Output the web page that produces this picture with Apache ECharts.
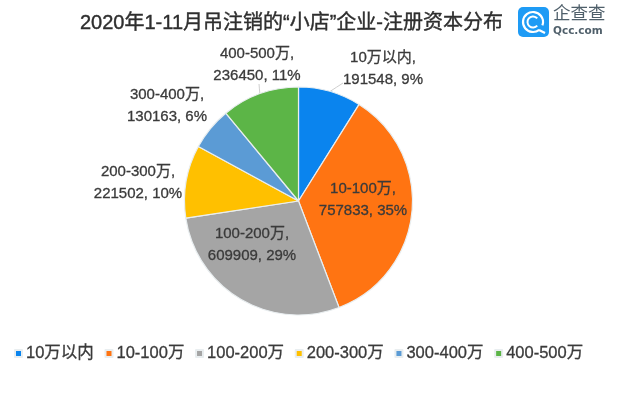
<!DOCTYPE html>
<html><head><meta charset="utf-8">
<style>html,body{margin:0;padding:0;background:#fff}#c{width:622px;height:396px}</style>
<script src="https://cdn.jsdelivr.net/npm/echarts@6/dist/echarts.min.js"></script>
</head><body><div id="c"></div>
<script>
const categories = ['10万以内','10-100万','100-200万','200-300万','300-400万','400-500万'];
const seriesValues = [191548,757833,609909,221502,130163,236450];
const colors = ['#0A84EE','#FF7412','#A5A5A5','#FFC000','#5B9BD5','#5CB547'];
const labelCenters = [[383,69],[363,200],[252,245],[138,183],[167,106],[257,65]];
const leaderEnds = {0:[343,83],5:[259,84]};
const font = '"Liberation Sans","Noto Sans CJK SC",sans-serif';
const ink = '#3a3a3a';
const chart = echarts.init(document.getElementById('c'));
chart.setOption({
  animation:false,
  backgroundColor:'#fff',
  title:{text:'2020年1-11月吊注销的“小店”企业-注册资本分布',left:75,top:8,
    textStyle:{fontFamily:font,fontSize:20,fontWeight:'normal',color:'#2e2e2e',textBorderColor:'#2e2e2e',textBorderWidth:0.4}},
  legend:{left:9,top:340,itemWidth:7,itemHeight:7,itemGap:10.5,icon:'rect',
    textStyle:{fontFamily:font,fontSize:16.5,color:ink,padding:[0,0,0,-1],textBorderColor:ink,textBorderWidth:0.3},
    data:categories},
  series:[{
    type:'pie',center:[298.5,201],radius:[0,114],startAngle:90,clockwise:true,percentPrecision:0,
    data:categories.map((n,i)=>({name:n,value:seriesValues[i],itemStyle:{color:colors[i]},
      labelLine:{show:i in leaderEnds}})),
    itemStyle:{borderColor:'#e9eef0',borderWidth:1.2},
    label:{show:true,position:'outside',formatter:'{b},\n{c}, {d}%',align:'center',verticalAlign:'middle',
      fontFamily:font,fontSize:15,lineHeight:22,color:ink,textBorderColor:ink,textBorderWidth:0.3},
    labelLine:{show:true,length:6,length2:6,lineStyle:{color:'#cfcfcf',width:1}},
    labelLayout:p=>{
      const i=p.dataIndex, out={x:labelCenters[i][0],y:labelCenters[i][1],align:'center',verticalAlign:'middle'};
      if(leaderEnds[i]&&p.labelLinePoints){
        const a=p.labelLinePoints[0], b=leaderEnds[i];
        out.labelLinePoints=[a,[(a[0]+b[0])/2,(a[1]+b[1])/2],b];
      }
      return out;
    }
  }],
  graphic:[
    {type:'rect',shape:{x:518,y:7,width:31,height:30,r:5},style:{fill:'#1E9BF5'}},
    {type:'arc',shape:{cx:533,cy:22,r:10,startAngle:0.9,endAngle:0.35,clockwise:true},style:{fill:'none',stroke:'#fff',lineWidth:2.2}},
    {type:'arc',shape:{cx:533,cy:22,r:5.5,startAngle:0.7,endAngle:-0.7,clockwise:true},style:{fill:'none',stroke:'#fff',lineWidth:2}},
    {type:'line',shape:{x1:539,y1:30,x2:545,y2:33},style:{stroke:'#fff',lineWidth:2.2}},
    {type:'text',x:553,y:4,style:{text:'企查查',font:'17.5px "Noto Sans CJK SC"',fill:'#4f5f6a'}},
    {type:'text',x:553,y:26,style:{text:'Qcc.com',font:'bold 10.5px "DejaVu Sans"',fill:'#4f5f6a'}}
  ]
});
</script></body></html>
